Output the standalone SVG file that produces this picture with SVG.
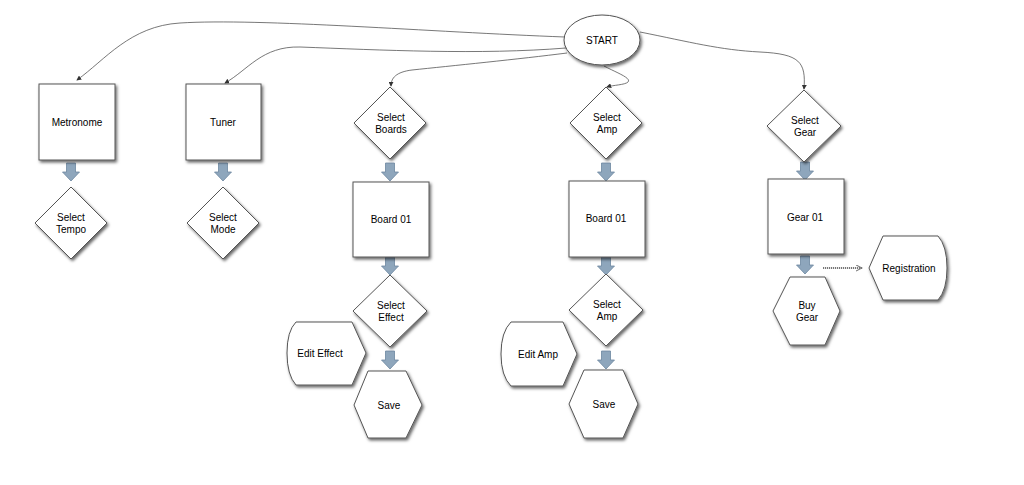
<svg xmlns="http://www.w3.org/2000/svg" width="1024" height="485" viewBox="0 0 1024 485">
<defs>
<filter id="sh" x="-20%" y="-20%" width="140%" height="140%">
<feDropShadow dx="1.5" dy="2" stdDeviation="1.5" flood-color="#000" flood-opacity="0.6"/>
</filter>
<marker id="ah" viewBox="0 0 6 6" refX="5" refY="3" markerWidth="5" markerHeight="5" orient="auto" markerUnits="userSpaceOnUse">
<path d="M0,0 L6,3 L0,6 Z" fill="#333"/>
</marker>
<marker id="ah2" viewBox="0 0 8 8" refX="7" refY="4" markerWidth="7" markerHeight="7" orient="auto" markerUnits="userSpaceOnUse">
<path d="M0,0.5 L7,4 L0,7.5" fill="none" stroke="#777" stroke-width="1.2"/>
</marker>
<path id="barrow" d="M-4.5,0 L4.5,0 L4.5,9 L8.5,9 L0,18 L-8.5,9 L-4.5,9 Z"/>
</defs>
<style>
.n{fill:#fff;stroke:#555;stroke-width:1;filter:url(#sh)}
.t{font-family:"Liberation Sans",Arial,sans-serif;font-size:10px;fill:#000;text-anchor:middle}
.c{fill:none;stroke:#555;stroke-width:0.8}
.ba{fill:#8ea6bc;stroke:#6c879f;stroke-width:0.8}
</style>
<rect width="1024" height="485" fill="#fff"/>

<g id="connectors">
<path class="c" d="M565,37 C430,32 260,18 180,23 C130,26 105,60 77,80" marker-end="url(#ah)"/>
<path class="c" d="M566,48 C480,55 380,50 300,47 C262,46 248,70 225,83" marker-end="url(#ah)"/>
<path class="c" d="M567,53 C520,59 450,66 412,70 C396,72 391,78 391,86" marker-end="url(#ah)"/>
<path class="c" d="M604,66 C615,72 632,78 628,82 C625,85 613,85 607,87" marker-end="url(#ah)"/>
<path class="c" d="M640,32 C690,42 720,50 760,52 C800,54 806,62 804,89" marker-end="url(#ah)"/>
<use href="#barrow" class="ba" x="71" y="163"/>
<use href="#barrow" class="ba" x="223" y="163"/>
<use href="#barrow" class="ba" x="390" y="163"/>
<use href="#barrow" class="ba" x="390" y="257"/>
<use href="#barrow" class="ba" x="390" y="351"/>
<use href="#barrow" class="ba" x="606" y="163"/>
<use href="#barrow" class="ba" x="606" y="257"/>
<use href="#barrow" class="ba" x="606" y="351"/>
<use href="#barrow" class="ba" x="805" y="162"/>
<use href="#barrow" class="ba" x="805" y="256"/>
<path d="M823,268 L862,268" fill="none" stroke="#777" stroke-width="2.2" stroke-dasharray="1.2,0.8" marker-end="url(#ah2)"/>
</g>

<g id="start">
<ellipse class="n" cx="602" cy="40" rx="38" ry="25"/>
<text class="t" x="602" y="44">START</text>
</g>

<g id="metronome">
<rect class="n" x="39" y="84" width="76" height="76"/>
<text class="t" x="77" y="126">Metronome</text>
</g>
<g id="select-tempo">
<path class="n" d="M71,187 L107,223 L71,259 L35,223 Z"/>
<text class="t" x="71" y="221">Select</text>
<text class="t" x="71" y="233">Tempo</text>
</g>

<g id="tuner">
<rect class="n" x="186" y="84" width="75" height="76"/>
<text class="t" x="223" y="126">Tuner</text>
</g>
<g id="select-mode">
<path class="n" d="M223,187 L259,223 L223,259 L187,223 Z"/>
<text class="t" x="223" y="221">Select</text>
<text class="t" x="223" y="233">Mode</text>
</g>

<g id="select-boards">
<path class="n" d="M390,87 L426,123 L390,159 L354,123 Z"/>
<text class="t" x="391" y="121">Select</text>
<text class="t" x="391" y="133">Boards</text>
</g>
<g id="board-01-a">
<rect class="n" x="353" y="182" width="76" height="75"/>
<text class="t" x="391" y="223">Board 01</text>
</g>
<g id="select-effect">
<path class="n" d="M390,275 L427,311 L390,347 L353,311 Z"/>
<text class="t" x="391" y="309">Select</text>
<text class="t" x="391" y="321">Effect</text>
</g>
<g id="edit-effect">
<path class="n" d="M296,322 L352,322 L366,353 L352,385 L296,385 Q287,375 287,353 Q287,331 296,322 Z"/>
<text class="t" x="320" y="357">Edit Effect</text>
</g>
<g id="save-a">
<path class="n" d="M354,405 L368,371 L406,371 L422,405 L406,438 L368,438 Z"/>
<text class="t" x="389" y="409">Save</text>
</g>

<g id="select-amp">
<path class="n" d="M606,87 L642,123 L606,159 L570,123 Z"/>
<text class="t" x="607" y="121">Select</text>
<text class="t" x="607" y="133">Amp</text>
</g>
<g id="board-01-b">
<rect class="n" x="569" y="181" width="76" height="76"/>
<text class="t" x="606" y="222">Board 01</text>
</g>
<g id="select-amp-2">
<path class="n" d="M606,274 L643,310 L606,346 L569,310 Z"/>
<text class="t" x="607" y="308">Select</text>
<text class="t" x="607" y="320">Amp</text>
</g>
<g id="edit-amp">
<path class="n" d="M511,322 L563,322 L577,354 L563,386 L511,386 Q501,376 501,354 Q501,332 511,322 Z"/>
<text class="t" x="538" y="358">Edit Amp</text>
</g>
<g id="save-b">
<path class="n" d="M569,404 L584,370 L623,370 L638,404 L623,438 L584,438 Z"/>
<text class="t" x="604" y="408">Save</text>
</g>

<g id="select-gear">
<path class="n" d="M804,90 L841,126 L804,162 L767,126 Z"/>
<text class="t" x="805" y="124">Select</text>
<text class="t" x="805" y="136">Gear</text>
</g>
<g id="gear-01">
<rect class="n" x="768" y="179" width="76" height="75"/>
<text class="t" x="805" y="221">Gear 01</text>
</g>
<g id="buy-gear">
<path class="n" d="M773,311 L790,277 L825,277 L840,311 L825,345 L790,345 Z"/>
<text class="t" x="807" y="309">Buy</text>
<text class="t" x="807" y="321">Gear</text>
</g>
<g id="registration">
<path class="n" d="M869,268 L883,236 L938,236 Q947,246 947,268 Q947,290 938,300 L883,300 Z"/>
<text class="t" x="909" y="272">Registration</text>
</g>
</svg>
